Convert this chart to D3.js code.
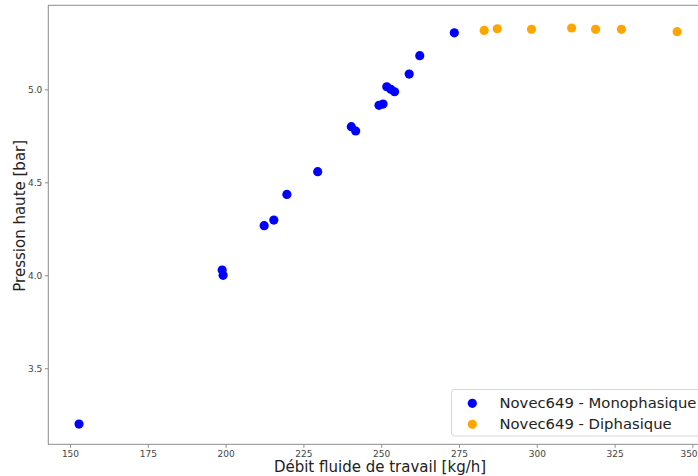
<!DOCTYPE html>
<html><head><meta charset="utf-8">
<script src="https://cdn.jsdelivr.net/npm/d3@7"></script>
<style>
html,body{margin:0;padding:0;background:#fff;overflow:hidden;}
svg{display:block;font-family:"DejaVu Sans",sans-serif;}
</style></head>
<body>
<script>
const monoX = [152.9, 198.9, 199.2, 212.4, 215.5, 219.7, 229.6, 240.4, 241.8, 249.3, 250.6, 251.8, 253.1, 254.3, 259.0, 262.4, 273.5];
const monoY = [3.20, 4.028, 4.00, 4.267, 4.297, 4.435, 4.557, 4.799, 4.776, 4.914, 4.921, 5.014, 5.000, 4.987, 5.082, 5.181, 5.304];
const diX = [283.1, 287.3, 298.3, 311.2, 318.9, 327.2, 345.1];
const diY = [5.317, 5.326, 5.323, 5.330, 5.323, 5.323, 5.310];
const xTicks = [150, 175, 200, 225, 250, 275, 300, 325, 350];
const yTicks = [3.5, 4.0, 4.5, 5.0];
const seriesNames = ["Novec649 - Monophasique", "Novec649 - Diphasique"];
const seriesColors = ["#0000ff", "#ffa500"];

const W = 698, H = 476;
const pL = 48.3, pR = 707, pT = 5.3, pB = 444.3;
const svg = d3.select("body").append("svg").attr("width", W).attr("height", H);

const x = d3.scaleLinear().domain([143.03, 354.7]).range([pL, pR]);
const y = d3.scaleLinear().domain([3.091, 5.452]).range([pB, pT]);

// frame
svg.append("rect").attr("x", pL).attr("y", pT).attr("width", pR - pL).attr("height", pB - pT)
  .attr("fill", "none").attr("stroke", "#8c8c8c").attr("stroke-width", 1);

const xAxis = svg.append("g").attr("transform", `translate(0,${pB})`)
  .call(d3.axisBottom(x).tickValues(xTicks).tickFormat(d3.format("d")).tickSize(3.5).tickPadding(2.5));
const yAxis = svg.append("g").attr("transform", `translate(${pL},0)`)
  .call(d3.axisLeft(y).tickValues(yTicks).tickFormat(d3.format(".1f")).tickSize(3.5).tickPadding(2.5));
[xAxis, yAxis].forEach(g => {
  g.select(".domain").remove();
  g.selectAll("line").attr("stroke", "#8c8c8c");
  g.selectAll("text").attr("fill", "#444").style("font-size", "9px").style("font-family", "DejaVu Sans, sans-serif");
});
// keep the last x tick label inside the window
xAxis.selectAll(".tick text").filter(d => x(d) + 9 > W).attr("dx", d => (W - 1 - 8.5 - x(d)));

// axis labels
svg.append("text").attr("x", 380).attr("y", 472).attr("text-anchor", "middle")
  .style("font-size", "15px").attr("fill", "#222").text("Débit fluide de travail [kg/h]");
svg.append("text").attr("transform", `translate(25,${(pT+pB)/2 - 9}) rotate(-90)`).attr("text-anchor", "middle")
  .style("font-size", "15px").attr("fill", "#222").text("Pression haute [bar]");

// points
const mono = monoX.map((v, i) => ({x: v, y: monoY[i]}));
const di = diX.map((v, i) => ({x: v, y: diY[i]}));
[mono, di].forEach((pts, k) => {
  svg.append("g").selectAll("circle").data(pts).join("circle")
    .attr("cx", d => x(d.x)).attr("cy", d => y(d.y)).attr("r", 4.6)
    .attr("fill", seriesColors[k]);
});

// legend
const lg = svg.append("g");
lg.append("rect").attr("x", 451.5).attr("y", 389.5).attr("width", 270).attr("height", 46.5).attr("rx", 3)
  .attr("fill", "#fff").attr("fill-opacity", 0.8).attr("stroke", "#d6d6d6");
seriesNames.forEach((name, i) => {
  lg.append("circle").attr("cx", 472.3).attr("cy", 403.3 + i * 21).attr("r", 4.6).attr("fill", seriesColors[i]);
  lg.append("text").attr("x", 499.5).attr("y", 407.8 + i * 20.8).style("font-size", "14.8px").attr("fill", "#222").text(name);
});
</script>
</body></html>
